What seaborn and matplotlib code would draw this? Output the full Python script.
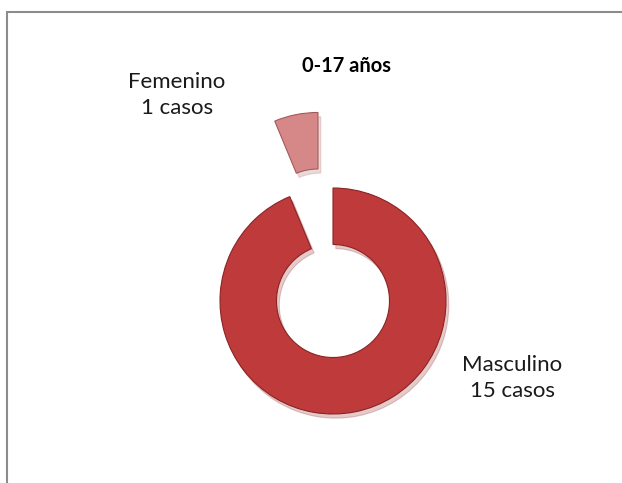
import numpy as np
import seaborn as sns
import matplotlib.pyplot as plt
from matplotlib.lines import Line2D

# data
sexo = ["Masculino", "Femenino"]
casos = [15, 1]
titulo = "0-17 años"

colores = ["#bf3a3a", "#d68888"]
bordes = ["#8a2424", "#a45a5a"]

sns.set_theme(style="white")
plt.rcParams['font.family'] = ['Lato', 'DejaVu Sans']

W, H = 622, 483
fig = plt.figure(figsize=(W / 100, H / 100), dpi=100)
ax = fig.add_axes([0, 0, 1, 1])

centro = (333, 182)
radio = 113
# explode is in data units here (pixels), since center/radius are too
wedges, _ = ax.pie(
    casos,
    colors=colores,
    startangle=90,
    counterclock=False,
    explode=[0.0, 77],
    center=centro,
    radius=radio,
    frame=True,
    wedgeprops=dict(width=radio * 0.5, linewidth=0.8),
    shadow=dict(ox=2, oy=-3, shade=0.2, alpha=0.25),
)
for w, ec in zip(wedges, bordes):
    w.set_edgecolor(ec)

ax.set_xlim(0, W)
ax.set_ylim(0, H)
ax.set_aspect('equal')
ax.axis('off')

# labels
etiquetas = [f"{s}\n{c} casos" for s, c in zip(sexo, casos)]
ax.text(512, 105, etiquetas[0], ha='center', va='center',
        fontsize=16, color='#1a1a1a', linespacing=1.4)
ax.text(177, 388, etiquetas[1], ha='center', va='center',
        fontsize=16, color='#1a1a1a', linespacing=1.4)
ax.text(347, 417, titulo, ha='center', va='center',
        fontsize=14.5, fontweight='bold', color='black')

# chart frame (top and left edges only)
fig.add_artist(Line2D([7 / W, 1], [1 - 12 / H, 1 - 12 / H],
                      transform=fig.transFigure, color='#8c8c8c', lw=1.5))
fig.add_artist(Line2D([7 / W, 7 / W], [0, 1 - 12 / H],
                      transform=fig.transFigure, color='#8c8c8c', lw=1.5))

fig.savefig("out.png", dpi=100)
plt.close(fig)
